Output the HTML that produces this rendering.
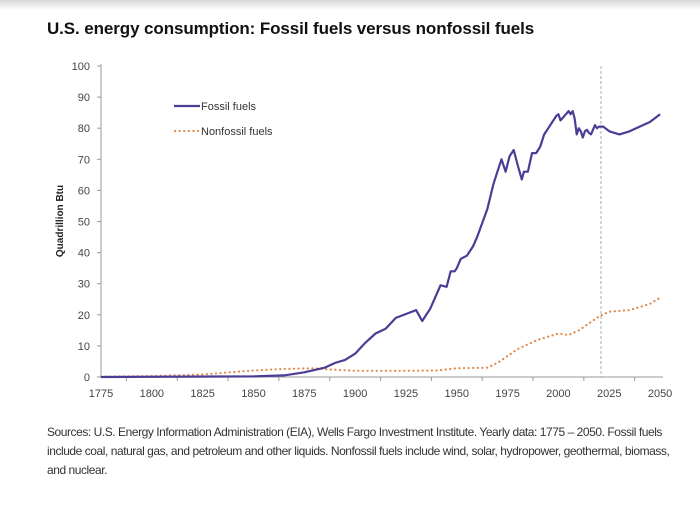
<!DOCTYPE html>
<html><head><meta charset="utf-8"><style>
body{margin:0;width:700px;height:506px;background:#fff;font-family:"Liberation Sans",sans-serif;overflow:hidden;position:relative}
.top{position:absolute;left:0;top:0;width:700px;height:10px;background:linear-gradient(#d8d8d8,#fff)}
h1{position:absolute;left:47px;top:19px;margin:0;font-size:17px;font-weight:bold;color:#111;letter-spacing:-0.1px}
.src{position:absolute;left:47px;top:423px;font-size:12px;line-height:19px;color:#333;letter-spacing:-0.45px;white-space:nowrap}
</style></head><body>
<div class="top"></div>
<h1>U.S. energy consumption: Fossil fuels versus nonfossil fuels</h1>
<svg id="c" width="700" height="506" style="position:absolute;left:0;top:0" font-family="Liberation Sans, sans-serif"></svg>
<div class="src">Sources: U.S. Energy Information Administration (EIA), Wells Fargo Investment Institute. Yearly data: 1775 – 2050. Fossil fuels<br>include coal, natural gas, and petroleum and other liquids. Nonfossil fuels include wind, solar, hydropower, geothermal, biomass,<br>and nuclear.</div>
<script>
var X=function(y){return 101+(y-1775)*2.033},Y=function(v){return 377-v*3.11};
var s='';
s+='<line x1="101" y1="64" x2="101" y2="377" stroke="#999"/>';
s+='<line x1="97" y1="377" x2="663" y2="377" stroke="#999"/>';
for(var v=0;v<=100;v+=10){s+='<line x1="97" x2="101" y1="'+Y(v)+'" y2="'+Y(v)+'" stroke="#999"/><text x="90" y="'+(Y(v)+4)+'" font-size="11" fill="#444" text-anchor="end">'+v+'</text>';}
for(var y=1775;y<=2050;y+=25){s+='<text x="'+X(y)+'" y="397" font-size="11" fill="#444" text-anchor="middle">'+y+'</text>';}
for(var y=1787.5;y<2050;y+=25){s+='<line x1="'+X(y)+'" x2="'+X(y)+'" y1="377" y2="381" stroke="#999"/>';}
s+='<text transform="translate(63,221) rotate(-90)" font-size="10" font-weight="bold" fill="#222" text-anchor="middle">Quadrillion Btu</text>';
s+='<line x1="601" x2="601" y1="66" y2="377" stroke="#aaa" stroke-dasharray="3,2"/>';
var f=[[1775,0],[1850,0.2],[1865,0.5],[1875,1.5],[1885,3],[1890,4.5],[1895,5.5],[1900,7.5],[1905,11],[1910,14],[1915,15.5],[1920,19],[1930,21.5],[1933,18],[1937,22],[1942,29.5],[1945,29],[1947,34],[1949,34],[1950,35],[1952,38],[1955,39],[1958,42],[1960,45],[1965,54],[1968,62],[1970,66],[1972,70],[1974,66],[1976,71],[1978,73],[1980,68],[1982,63.5],[1983,66],[1985,66],[1987,72],[1989,72],[1991,74],[1993,78],[1995,80],[1997,82],[1999,84],[2000,84.5],[2001,82.5],[2003,84],[2005,85.5],[2006,84.5],[2007,85.5],[2008,83],[2009,78],[2010,80],[2011,79],[2012,77],[2013,79],[2014,79.5],[2015,78.5],[2016,78],[2018,81],[2019,80],[2020,80.5],[2022,80.5],[2025,79],[2030,78],[2035,79],[2040,80.5],[2045,82],[2050,84.5]];
var n=[[1775,0.1],[1800,0.3],[1825,0.8],[1850,2.1],[1865,2.6],[1880,2.8],[1885,2.5],[1900,2],[1925,2],[1940,2.1],[1950,2.8],[1965,3],[1970,4.5],[1980,9],[1990,12],[2000,14],[2005,13.5],[2010,15],[2020,19.5],[2025,21],[2035,21.5],[2045,23.5],[2050,25.5]];
function p(a){return a.map(function(d,i){return (i?'L':'M')+X(d[0]).toFixed(1)+','+Y(d[1]).toFixed(1)}).join('')}
s+='<path d="'+p(n)+'" fill="none" stroke="#e08a4a" stroke-width="2.2" stroke-dasharray="0.1,4.5" stroke-linecap="round"/>';
s+='<path d="'+p(f)+'" fill="none" stroke="#4b3d96" stroke-width="2.2" stroke-linejoin="round"/>';
s+='<line x1="174" x2="200" y1="106" y2="106" stroke="#4b3d96" stroke-width="2.2"/><text x="201" y="110" font-size="11" fill="#333">Fossil fuels</text>';
s+='<line x1="175" x2="200" y1="131" y2="131" stroke="#e08a4a" stroke-width="2.2" stroke-dasharray="0.1,4.5" stroke-linecap="round"/><text x="201" y="135" font-size="11" fill="#333">Nonfossil fuels</text>';
document.getElementById('c').innerHTML=s;
</script>
</body></html>
